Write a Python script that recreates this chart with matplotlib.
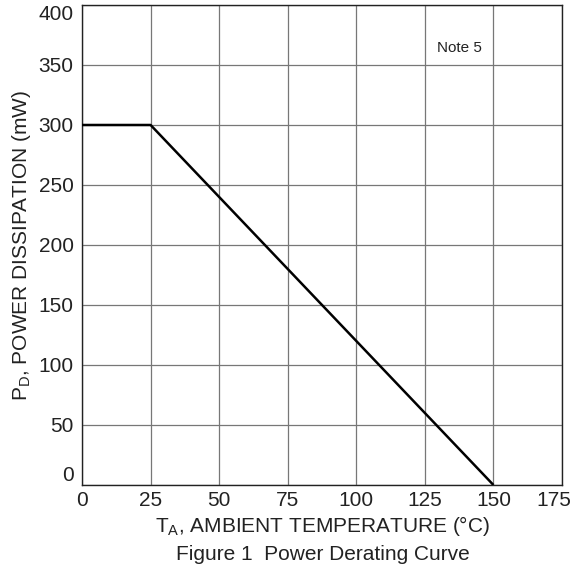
import matplotlib.pyplot as plt
from matplotlib.transforms import ScaledTranslation

plt.rcParams['font.family'] = ['Liberation Sans', 'DejaVu Sans']
plt.rcParams['mathtext.fontset'] = 'custom'
plt.rcParams['mathtext.rm'] = 'Liberation Sans'

# derating curve
temp_c = [0, 25, 150]
power_mw = [300, 300, 0]
x_ticks = [0, 25, 50, 75, 100, 125, 150, 175]
y_ticks = [0, 50, 100, 150, 200, 250, 300, 350, 400]

fig = plt.figure(figsize=(5.74, 5.73), dpi=100)
ax = fig.add_axes([0.1429, 0.1536, 0.8362, 0.8377])

ax.plot(temp_c, power_mw, color='black', linewidth=1.8, solid_capstyle='butt', zorder=3)

ax.set_xlim(0, 175)
ax.set_ylim(0, 400)
ax.set_xticks(x_ticks)
ax.set_yticks(y_ticks)
ax.tick_params(length=0, labelsize=15, colors='#222222')
ax.tick_params(axis='x', pad=4)
ax.tick_params(axis='y', pad=6)
ax.grid(True, color='#777777', linewidth=0.9)
ax.set_axisbelow(True)
for s in ax.spines.values():
    s.set_color('#222222')
    s.set_linewidth(1.0)

# keep end labels inside like the original
ylabs = ax.get_yticklabels()
ylabs[0].set_va('bottom')
ylabs[-1].set_va('top')
last = ax.get_xticklabels()[-1]
last.set_transform(last.get_transform() + ScaledTranslation(-8 / 100, 0, fig.dpi_scale_trans))

ax.set_xlabel(r'T$_{\mathrm{A}}$, AMBIENT TEMPERATURE (°C)', fontsize=15, color='#222222', labelpad=3)
ax.set_ylabel(r'P$_{\mathrm{D}}$, POWER DISSIPATION (mW)', fontsize=15, color='#222222', labelpad=4)

ax.text(137.5, 364, 'Note 5', fontsize=11, ha='center', va='center', color='#222222')

fig.text(0.562, 1 - 554 / 573, 'Figure 1  Power Derating Curve',
         fontsize=15, ha='center', va='center', color='#222222')

fig.savefig('out.png', dpi=100)
